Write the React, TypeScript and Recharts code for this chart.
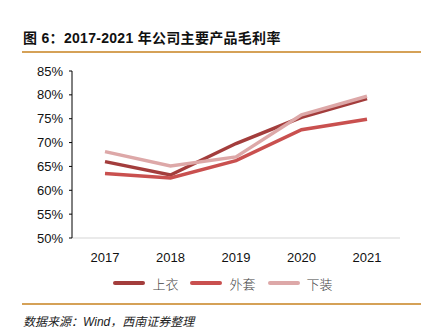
import React from "react";
import { LineChart, Line, XAxis, YAxis, Legend } from "recharts";

const years = ["2017", "2018", "2019", "2020", "2021"];
const tops = [66.0, 63.2, 69.8, 75.3, 79.2];
const outerwear = [63.5, 62.6, 66.2, 72.7, 74.9];
const bottoms = [68.1, 65.1, 67.0, 75.8, 79.7];
const yTicks = [50, 55, 60, 65, 70, 75, 80, 85];

const series = [
  { key: "tops", name: "上衣", color: "#A33D3C" },
  { key: "outerwear", name: "外套", color: "#C9504F" },
  { key: "bottoms", name: "下装", color: "#DDA8A8" },
];

const data = years.map((year, i) => ({
  year,
  tops: tops[i],
  outerwear: outerwear[i],
  bottoms: bottoms[i],
}));

const font = "'Liberation Sans', Arial, 'Noto Sans CJK SC', sans-serif";

function LegendContent() {
  return (
    <div style={{ height: 20, paddingLeft: 18, display: "flex", justifyContent: "center", alignItems: "center", gap: 12, fontSize: 13, color: "#444", fontFamily: font }}>
      {series.map((s) => (
        <div key={s.key} style={{ display: "flex", alignItems: "center" }}>
          <span style={{ display: "inline-block", width: 32, height: 4, borderRadius: 2, background: s.color, marginRight: 7 }} />
          <span style={{ fontFamily: "'Noto Sans CJK SC', sans-serif", fontWeight: 300 }}>{s.name}</span>
        </div>
      ))}
    </div>
  );
}

export default function App() {
  return (
    <div style={{ position: "absolute", left: 0, top: 0, width: 428, height: 333, background: "#fff", fontFamily: font }}>
      <div style={{ position: "absolute", left: 23, top: 27, fontSize: 14, fontWeight: 700, color: "#111", fontFamily: "'Liberation Sans', 'Noto Sans CJK SC', sans-serif", letterSpacing: 0.3, whiteSpace: "nowrap" }}>
        图 6：2017-2021 年公司主要产品毛利率
      </div>
      <div style={{ position: "absolute", left: 22, top: 51, width: 399, height: 2, background: "#D5A157" }} />
      <div style={{ position: "absolute", left: 0, top: 0 }}>
        <LineChart width={428} height={333} data={data} margin={{ top: 71, right: 28, bottom: 45, left: 0 }}>
          <XAxis
            dataKey="year"
            height={30}
            padding={{ left: 33, right: 33 }}
            tick={{ fontSize: 13, fill: "#111", fontFamily: font }}
            axisLine={{ stroke: "#E3E3E3", strokeWidth: 1.5 }}
            tickLine={false}
            tickMargin={9}
          />
          <YAxis
            domain={[50, 85]}
            ticks={yTicks}
            interval={0}
            width={72}
            tickFormatter={(v: number) => `${v}%`}
            tick={{ fontSize: 13, fill: "#111", fontFamily: font }}
            axisLine={{ stroke: "#000", strokeWidth: 1 }}
            tickLine={{ stroke: "#000" }}
            tickSize={3}
            tickMargin={6}
          />
          <Legend
            verticalAlign="bottom"
            height={20}
            wrapperStyle={{ position: "absolute", top: 273, left: 0, width: 428, height: 20 }}
            content={<LegendContent />}
          />
          {series.map((s) => (
            <Line
              key={s.key}
              dataKey={s.key}
              name={s.name}
              stroke={s.color}
              strokeWidth={3.5}
              dot={false}
              activeDot={false}
              type="linear"
              isAnimationActive={false}
            />
          ))}
        </LineChart>
      </div>
      <div style={{ position: "absolute", left: 22, top: 303, width: 399, height: 2, background: "#D5A157" }} />
      <div style={{ position: "absolute", left: 23, top: 312, fontSize: 12, fontStyle: "italic", color: "#222", fontFamily: "'Liberation Sans', 'Noto Sans CJK SC', sans-serif", whiteSpace: "nowrap" }}>
        数据来源：Wind，西南证券整理
      </div>
    </div>
  );
}
